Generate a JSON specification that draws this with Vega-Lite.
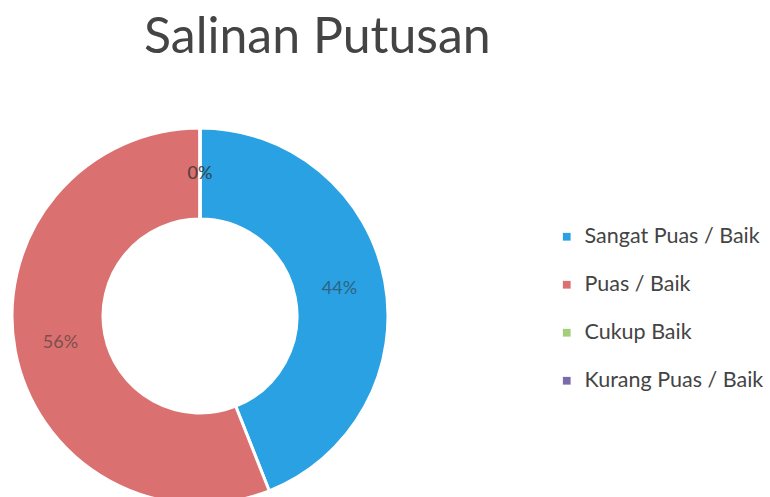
{
  "$schema": "https://vega.github.io/schema/vega-lite/v6.json",
  "autosize": {"type": "none"},
  "width": 376,
  "height": 376,
  "padding": {"left": 12, "top": 128, "right": 382, "bottom": 0},
  "background": "white",
  "title": {
    "text": "Salinan Putusan",
    "anchor": "start",
    "frame": "group",
    "dx": 132,
    "offset": 19,
    "baseline": "alphabetic",
    "font": "Lato",
    "fontSize": 50,
    "fontWeight": "normal",
    "color": "#444444"
  },
  "data": {
    "values": [
      {"kategori": "Sangat Puas / Baik", "nilai": 0.44, "urut": 1},
      {"kategori": "Puas / Baik", "nilai": 0.56, "urut": 2},
      {"kategori": "Cukup Baik", "nilai": 0, "urut": 3},
      {"kategori": "Kurang Puas / Baik", "nilai": 0, "urut": 4}
    ]
  },
  "encoding": {
    "theta": {"field": "nilai", "type": "quantitative", "stack": true},
    "order": {"field": "urut", "type": "quantitative"}
  },
  "layer": [
    {
      "mark": {"type": "arc", "outerRadius": 188, "innerRadius": 97, "stroke": "white", "strokeWidth": 3},
      "encoding": {
        "color": {
          "field": "kategori",
          "type": "nominal",
          "scale": {
            "domain": ["Sangat Puas / Baik", "Puas / Baik", "Cukup Baik", "Kurang Puas / Baik"],
            "range": ["#2AA1E2", "#DA7170", "#A3CF7C", "#7B6BAA"]
          },
          "legend": {
            "title": null,
            "orient": "none",
            "legendX": 544,
            "legendY": 98,
            "symbolType": "square",
            "symbolSize": 60,
            "symbolStrokeWidth": 0,
            "labelFont": "Lato",
            "labelFontSize": 21.5,
            "labelColor": "#444444",
            "labelLimit": 300,
            "rowPadding": 25,
            "labelOffset": 7
          }
        }
      }
    },
    {
      "mark": {"type": "text", "radius": 142, "font": "Lato", "fontSize": 18, "fill": "#333333", "opacity": 0.55},
      "encoding": {
        "text": {"field": "nilai", "type": "quantitative", "format": ".0%"}
      }
    }
  ]
}
